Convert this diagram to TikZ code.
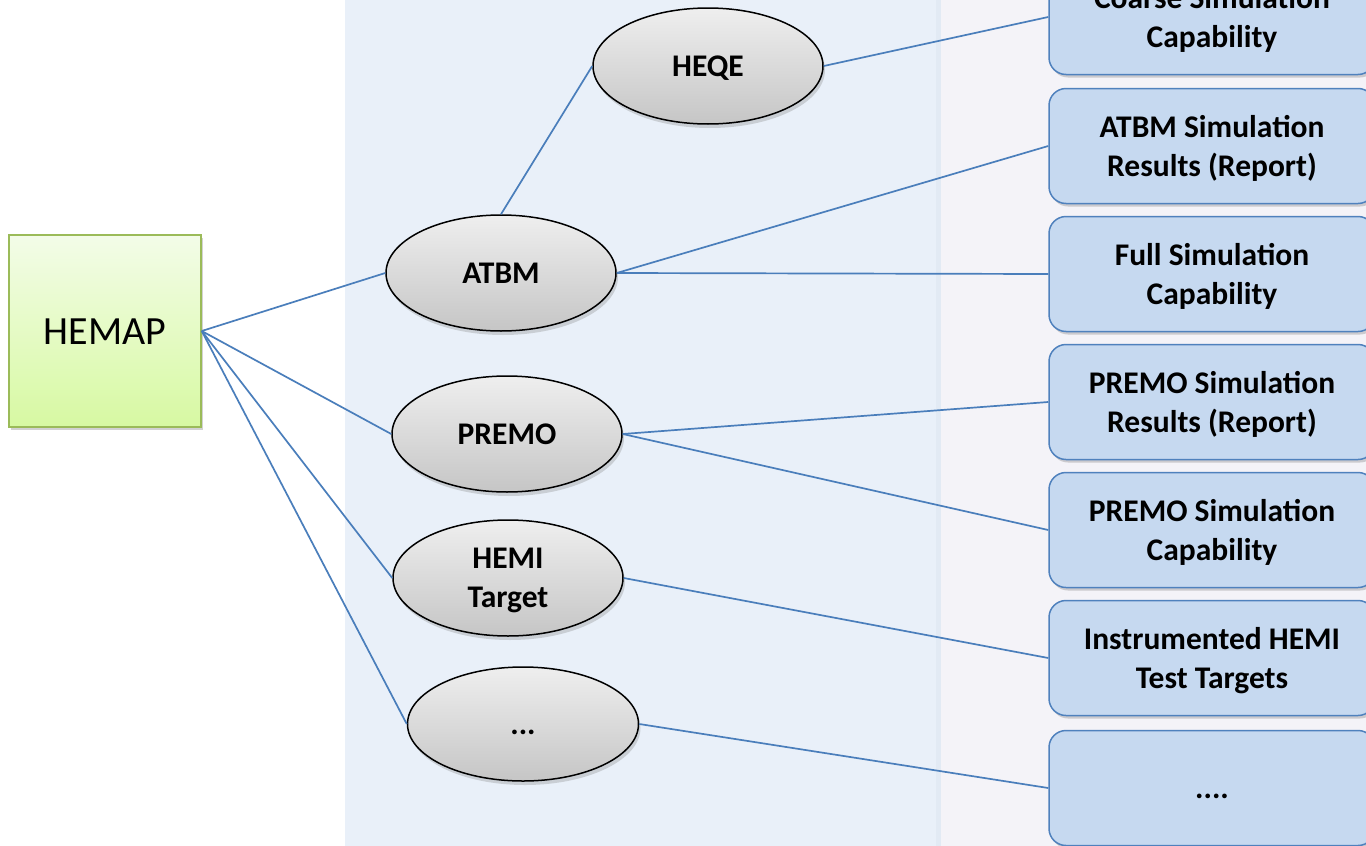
\documentclass[tikz,border=0pt]{standalone}
\usepackage{fontspec}
\setmainfont{Carlito}
\usetikzlibrary{shapes.geometric,shadows}
\definecolor{panelA}{HTML}{E9F0F9}
\definecolor{panelEdge}{HTML}{E2EAF4}
\definecolor{panelB}{HTML}{F4F3F8}
\definecolor{linkblue}{HTML}{4A7EBB}
\definecolor{boxfill}{HTML}{C6D9F0}
\definecolor{boxdraw}{HTML}{4F81BD}
\definecolor{greentop}{HTML}{F3FCE8}
\definecolor{greenbot}{HTML}{D7F9A2}
\definecolor{greendraw}{HTML}{9BBB59}
\tikzset{
  link/.style={draw=linkblue, line width=1.7pt},
  rootbox/.style={draw=greendraw, line width=1.5pt, top color=greentop, bottom color=greenbot,
    minimum width=192pt, minimum height=192pt, inner sep=0pt,
    font=\fontsize{40}{48}\selectfont, text depth=0pt,
    drop shadow={opacity=0.35, shadow xshift=2pt, shadow yshift=-3pt}},
  oval/.style={ellipse, draw=black, line width=1.5pt, top color=gray!13, bottom color=gray!45,
    minimum width=230pt, minimum height=116pt, inner sep=0pt, align=center,
    font=\bfseries\fontsize{31.5}{39}\selectfont, text depth=0pt,
    drop shadow={opacity=0.3, shadow xshift=2pt, shadow yshift=-4pt}},
  result/.style={draw=boxdraw, line width=1.5pt, fill=boxfill, rounded corners=17pt,
    minimum width=326pt, minimum height=115pt, inner sep=0pt, align=center,
    font=\bfseries\fontsize{31.5}{39}\selectfont, text depth=0pt,
    drop shadow={opacity=0.35, shadow xshift=2pt, shadow yshift=-3pt}}
}
\begin{document}
\begin{tikzpicture}[x=1pt,y=-1pt]
\useasboundingbox (0,0) rectangle (1366,846);
\fill[white] (0,0) rectangle (1366,846);
\fill[panelA] (345,0) rectangle (941,846);
\fill[panelEdge] (936,0) rectangle (941,846);
\fill[panelB] (941,0) rectangle (1366,846);

\node[rootbox] (hemap) at (105,331) {\raisebox{-2pt}{HEMAP}};

\node[oval] (heqe) at (708,66) {HEQE};
\node[oval] (atbm) at (501,273) {ATBM};
\node[oval] (premo) at (507,434) {PREMO};
\node[oval] (hemi) at (508,578) {HEMI\\Target};
\node[oval, minimum width=231pt, minimum height=114pt] (more) at (523,724) {\vphantom{A}...};

\node[result] (r1) at (1212,17) {Coarse Simulation\\Capability};
\node[result] (r2) at (1212,146) {ATBM Simulation\\Results (Report)};
\node[result] (r3) at (1212,274) {Full Simulation\\Capability};
\node[result] (r4) at (1212,402) {PREMO Simulation\\Results (Report)};
\node[result] (r5) at (1212,530) {PREMO Simulation\\Capability};
\node[result] (r6) at (1212,658) {Instrumented HEMI\\Test Targets};
\node[result] (r7) at (1212,788) {\vphantom{A}....};

\draw[link] (hemap.east) -- (atbm.west);
\draw[link] (hemap.east) -- (premo.west);
\draw[link] (hemap.east) -- (hemi.west);
\draw[link] (hemap.east) -- (more.west);
\draw[link] (atbm.north) -- (heqe.west);
\draw[link] (heqe.east) -- (r1.west);
\draw[link] (atbm.east) -- (r2.west);
\draw[link] (atbm.east) -- (r3.west);
\draw[link] (premo.east) -- (r4.west);
\draw[link] (premo.east) -- (r5.west);
\draw[link] (hemi.east) -- (r6.west);
\draw[link] (more.east) -- (r7.west);
\end{tikzpicture}
\end{document}
